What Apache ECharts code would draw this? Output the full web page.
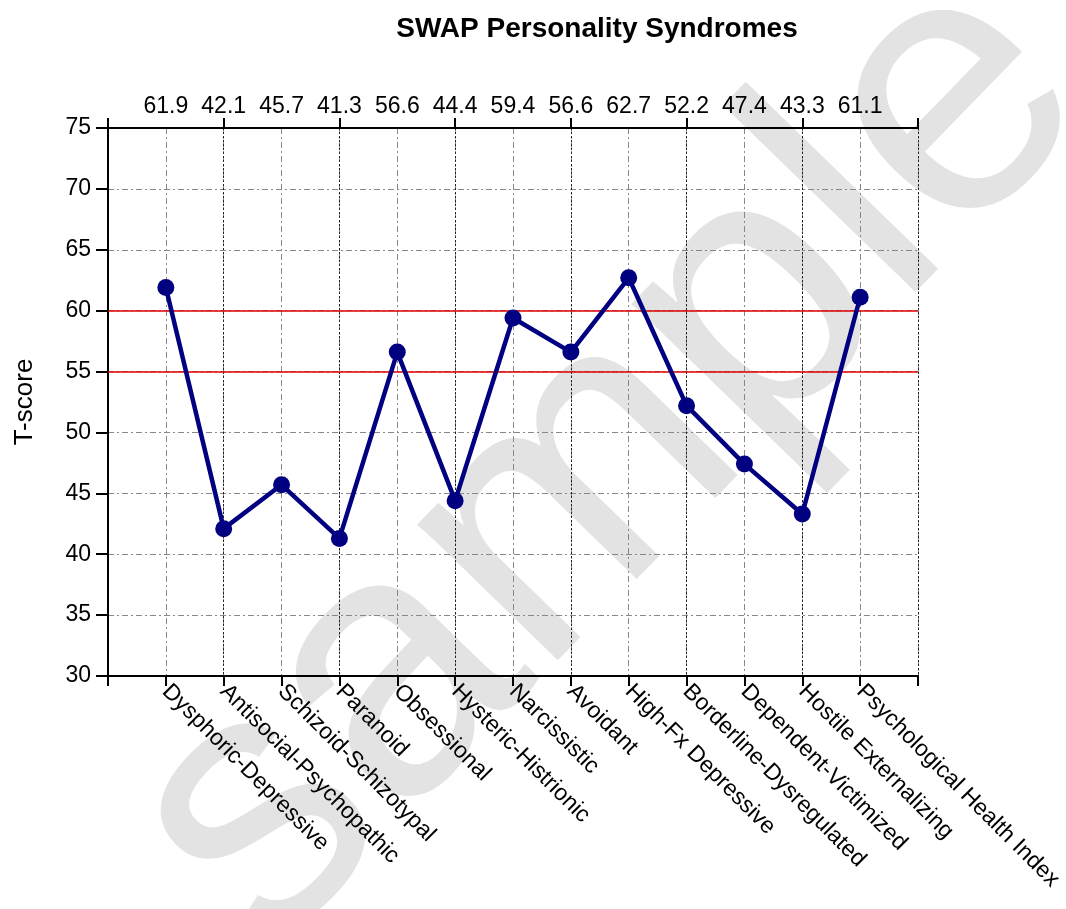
<!DOCTYPE html>
<html>
<head>
<meta charset="utf-8">
<script src="https://cdn.jsdelivr.net/npm/echarts@6/dist/echarts.min.js"></script>
<style>
  html, body { margin: 0; padding: 0; background: #fff; }
  #chart { width: 1066px; height: 909px; }
</style>
</head>
<body>
<div id="chart"></div>
<script>
// Syndrome names and T-scores
const syndromes = [
  'Dysphoric-Depressive', 'Antisocial-Psychopathic', 'Schizoid-Schizotypal', 'Paranoid',
  'Obsessional', 'Hysteric-Histrionic', 'Narcissistic', 'Avoidant', 'High-Fx Depressive',
  'Borderline-Dysregulated', 'Dependent-Victimized', 'Hostile Externalizing',
  'Psychological Health Index'
];
const tScores = [61.9, 42.1, 45.7, 41.3, 56.6, 44.4, 59.4, 56.6, 62.7, 52.2, 47.4, 43.3, 61.1];
const cutoffs = [60, 55];

const font = 'Liberation Sans, Arial, sans-serif';
const chart = echarts.init(document.getElementById('chart'));

// points sit at 1..13 on a 0..14 axis
const points = tScores.map((v, i) => [i + 1, v]);

chart.setOption({
  backgroundColor: '#fff',
  animation: false,
  title: {
    text: 'SWAP Personality Syndromes',
    left: 592, textAlign: 'center', top: 10,
    textStyle: { fontFamily: font, fontSize: 28, fontWeight: 'bold', color: '#000' }
  },
  graphic: [{
    type: 'text',
    z: -10,
    x: 610, y: 460,
    rotation: 0.8,
    style: {
      text: 'sample',
      font: '370px Liberation Sans, Arial, sans-serif',
      fill: '#e3e3e3',
      align: 'center',
      verticalAlign: 'middle'
    }
  }],
  grid: { left: 108, right: 148, top: 128, bottom: 233 },
  xAxis: [
    {
      type: 'value', position: 'bottom', min: 0, max: 14, interval: 1,
      axisLine: { show: true, lineStyle: { color: '#000', width: 2 } },
      axisTick: { show: true, length: 10, lineStyle: { color: '#000', width: 2 } },
      axisLabel: {
        rotate: -45, margin: 12, fontFamily: font, fontSize: 23, color: '#000',
        formatter: v => syndromes[v - 1] || ''
      },
      splitLine: { show: true, lineStyle: { color: '#888', width: 1, type: [6, 3, 2, 3] } }
    },
    {
      type: 'value', position: 'top', min: 0, max: 14, interval: 1,
      axisLine: { show: true, lineStyle: { color: '#000', width: 2 } },
      axisTick: { show: false },
      axisLabel: {
        margin: 10, fontFamily: font, fontSize: 23, color: '#000',
        formatter: v => (tScores[v - 1] !== undefined ? tScores[v - 1].toFixed(1) : '')
      },
      splitLine: { show: false }
    },
    {
      type: 'value', position: 'top', min: 0, max: 14, interval: 2,
      axisLine: { show: false },
      axisTick: { show: true, inside: false, length: 10, lineStyle: { color: '#000', width: 2 } },
      axisLabel: { show: false },
      splitLine: { show: true, lineStyle: { color: '#222', width: 1, type: [2, 2] } }
    }
  ],
  yAxis: {
    type: 'value', min: 30, max: 75, interval: 5,
    name: 'T-score', nameLocation: 'middle', nameGap: 70, nameRotate: 90,
    nameTextStyle: { fontFamily: font, fontSize: 26, color: '#000' },
    axisLine: { show: true, lineStyle: { color: '#000', width: 2 } },
    axisTick: { show: true, length: 12, lineStyle: { color: '#000', width: 2 } },
    axisLabel: { margin: 17, fontFamily: font, fontSize: 23, color: '#000' },
    splitLine: { show: true, lineStyle: { color: '#888', width: 1, type: [6, 3, 2, 3] } }
  },
  series: [{
    type: 'line',
    xAxisIndex: 0,
    data: points,
    symbol: 'circle',
    symbolSize: 17,
    lineStyle: { color: '#000080', width: 4.5 },
    itemStyle: { color: '#000080' },
    z: 5,
    markLine: {
      silent: true,
      symbol: 'none',
      label: { show: false },
      lineStyle: { color: '#e00000', width: 1.5, type: 'solid' },
      data: cutoffs.map(c => ({ yAxis: c }))
    }
  }]
});
</script>
</body>
</html>
